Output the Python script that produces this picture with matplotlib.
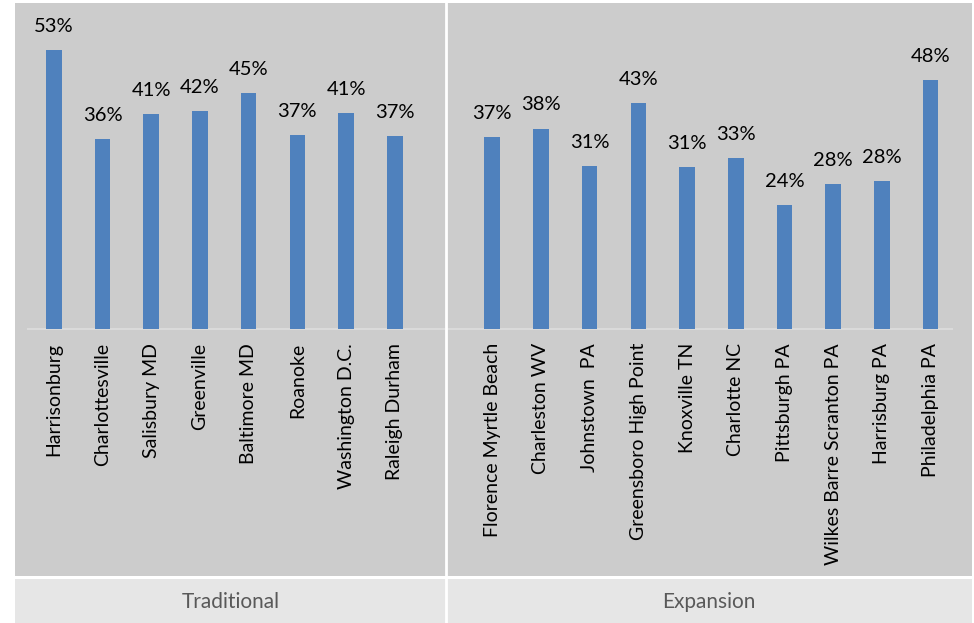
import matplotlib
matplotlib.use('Agg')
import matplotlib.pyplot as plt
import numpy as np

plt.rcParams['font.family'] = ['Lato', 'DejaVu Sans']

traditional_names = ['Harrisonburg', 'Charlottesville', 'Salisbury MD', 'Greenville',
                     'Baltimore MD', 'Roanoke', 'Washington D.C.', 'Raleigh Durham']
traditional_values = [0.534, 0.364, 0.411, 0.418, 0.452, 0.372, 0.413, 0.369]

expansion_names = ['Florence Myrtle Beach', 'Charleston WV', 'Johnstown  PA',
                   'Greensboro High Point', 'Knoxville TN', 'Charlotte NC',
                   'Pittsburgh PA', 'Wilkes Barre Scranton PA', 'Harrisburg PA',
                   'Philadelphia PA']
expansion_values = [0.368, 0.384, 0.313, 0.432, 0.311, 0.328, 0.237, 0.278, 0.284, 0.477]

group_names = ['Traditional', 'Expansion']

PANEL = '#cccccc'
BAND = '#e6e6e6'
BAR = '#4f81bd'
W, H = 974, 623


def main():
    fig = plt.figure(figsize=(W / 100, H / 100), dpi=100, facecolor='white')

    # one empty slot between the two groups
    x_left = np.arange(len(traditional_names))
    x_right = np.arange(len(expansion_names)) + len(traditional_names) + 1
    xs = np.concatenate((x_left, x_right))
    names = traditional_names + expansion_names
    values = traditional_values + expansion_values
    divider = len(traditional_names) + 0.05

    xlim = (-0.797, 18.85)

    ax = fig.add_axes((15 / W, 47 / H, 957 / W, 573 / H))
    ax.set_facecolor(PANEL)
    ax.set_xlim(*xlim)
    ax.set_ylim(-0.4732, 0.6245)
    for s in ax.spines.values():
        s.set_visible(False)
    ax.set_xticks([])
    ax.set_yticks([])

    ax.bar(xs, values, width=0.32, color=BAR, zorder=3)
    ax.hlines(0, xs[0] - 0.55, xs[-1] + 0.46, color='#dadada', lw=1.5, zorder=2)
    ax.axvline(divider, color='white', lw=2, zorder=4)

    for x, v, name in zip(xs, values, names):
        ax.annotate(f'{v:.0%}', (x, v), xytext=(0, 13), textcoords='offset points',
                    ha='center', va='baseline', fontsize=14.5, color='black')
        ax.annotate(name, (x, 0), xytext=(0, -10), textcoords='offset points',
                    ha='center', va='top', rotation=90, fontsize=14, color='black')

    band = fig.add_axes((15 / W, 0, 957 / W, 44 / H))
    band.set_facecolor(BAND)
    band.set_xlim(*xlim)
    band.set_ylim(0, 1)
    for s in band.spines.values():
        s.set_visible(False)
    band.set_xticks([])
    band.set_yticks([])
    band.axvline(divider, color='white', lw=2)
    band.text((xlim[0] + divider) / 2, 0.47, group_names[0], ha='center', va='center',
              fontsize=15, color='#595959')
    band.text((divider + xlim[1]) / 2, 0.47, group_names[1], ha='center', va='center',
              fontsize=15, color='#595959')

    fig.savefig('out.png', dpi=100, facecolor='white')
    plt.close(fig)


if __name__ == "__main__":
    main()
